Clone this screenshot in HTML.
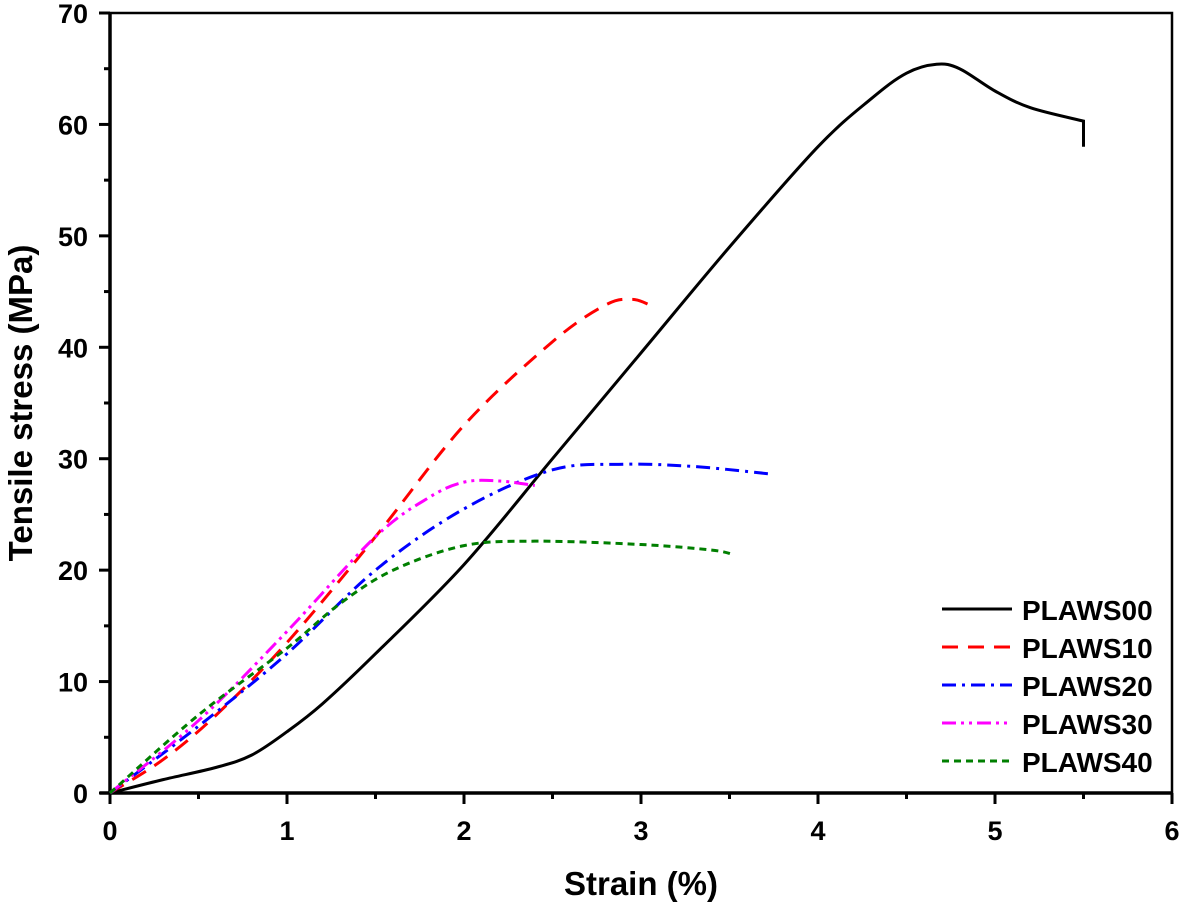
<!DOCTYPE html>
<html><head><meta charset="utf-8"><style>
html,body{margin:0;padding:0;background:#fff;}
svg{display:block;font-family:"Liberation Sans",Arial,sans-serif;font-weight:bold;}
</style></head><body>
<svg id="chart" width="1179" height="902" viewBox="0 0 1179 902">
<g id="axes"></g><g id="series"></g><g id="legend"></g>
</svg>
<script>
const xTicks=[0,1,2,3,4,5,6];
const yTicks=[0,10,20,30,40,50,60,70];
const seriesNames=["PLAWS00","PLAWS10","PLAWS20","PLAWS30","PLAWS40"];
const s00x=[0,0.3,0.6,0.8,1.0,1.2,1.5,2.0,2.5,3.0,3.5,4.0,4.3,4.5,4.67,4.8,5.0,5.2,5.5];
const s00y=[0,1.2,2.3,3.4,5.5,8,12.5,20.5,30,39.5,49,58,62.3,64.6,65.4,65,63,61.5,60.3];
const s10x=[0,0.3,0.6,1,1.5,2,2.5,2.8,2.95,3.05];
const s10y=[0,3,7,13.5,23,33,40.5,43.8,44.3,43.8];
const s20x=[0,0.5,1,1.5,2,2.5,2.9,3.3,3.75];
const s20y=[0,6,12.5,20,25.5,29,29.5,29.3,28.6];
const s30x=[0,0.5,1,1.5,1.8,2.0,2.2,2.4];
const s30y=[0,6.5,14.5,23,26.5,27.9,28,27.6];
const s40x=[0,0.5,1,1.3,1.6,2,2.4,3,3.4,3.52];
const s40y=[0,7,13,17,20,22.2,22.6,22.3,21.8,21.4];
const X0=110,X1=1172,Y0=793,Y1=13;
const sx=v=>X0+(X1-X0)*v/6, sy=v=>Y0-(Y0-Y1)*v/70;
const NS="http://www.w3.org/2000/svg";
function mk(t,a,p){const e=document.createElementNS(NS,t);for(const k in a)e.setAttribute(k,a[k]);p.appendChild(e);return e;}
const ax=document.getElementById('axes');
let fr=mk('rect',{x:X0,y:Y1,width:X1-X0,height:Y0-Y1,fill:'none',stroke:'#000','stroke-width':2.5},ax);

mk('line',{x1:X0,y1:Y1,x2:X0,y2:Y0,stroke:'#000','stroke-width':3.5},ax);
mk('line',{x1:X0-10,y1:Y0,x2:X1,y2:Y0,stroke:'#000','stroke-width':3.5},ax);
xTicks.forEach((t,i)=>{const x=sx(t);
 mk('line',{x1:x,y1:Y0,x2:x,y2:Y0+11,stroke:'#000','stroke-width':3},ax);
 if(i<xTicks.length-1)mk('line',{x1:sx(t+0.5),y1:Y0,x2:sx(t+0.5),y2:Y0+6,stroke:'#000','stroke-width':3},ax);
 const tx=mk('text',{x:x,y:Y0+47,'text-anchor':'middle','font-size':27},ax);tx.textContent=t;
 });
yTicks.forEach((t,i)=>{const y=sy(t);
 mk('line',{x1:X0-11,y1:y,x2:X0,y2:y,stroke:'#000','stroke-width':3},ax);
 if(i<yTicks.length-1)mk('line',{x1:X0-6,y1:sy(t+5),x2:X0,y2:sy(t+5),stroke:'#000','stroke-width':3},ax);
 const tx=mk('text',{x:X0-22,y:y+10,'text-anchor':'end','font-size':27},ax);tx.textContent=t;
 });
let xt=mk('text',{x:641,y:895,'text-anchor':'middle','font-size':33},ax);xt.textContent='Strain (%)';

let yt=mk('text',{x:32,y:403,'text-anchor':'middle','font-size':33,transform:'rotate(-90 32 403)'},ax);yt.textContent='Tensile stress (MPa)';

const styles=[
 {c:'#000',d:''},{c:'#ff0000',d:'16 10'},{c:'#0000ff',d:'14 6 3 6'},{c:'#ff00ff',d:'14 5 3 5 3 5'},{c:'#007f00',d:'7 5'}];
const data=[[s00x,s00y],[s10x,s10y],[s20x,s20y],[s30x,s30y],[s40x,s40y]];
function path(xs,ys){const p=xs.map((v,i)=>[sx(v),sy(ys[i])]);let d='M'+p[0][0]+','+p[0][1];
 for(let i=0;i<p.length-1;i++){const a=p[i-1]||p[i],b=p[i],c=p[i+1],e=p[i+2]||c;
 d+=' C'+(b[0]+(c[0]-a[0])/6)+','+(b[1]+(c[1]-a[1])/6)+' '+(c[0]-(e[0]-b[0])/6)+','+(c[1]-(e[1]-b[1])/6)+' '+c[0]+','+c[1];}
 return d;}
const sg=document.getElementById('series');
data.forEach((s,i)=>{let d=path(s[0],s[1]);
 if(i===0)d+=' L'+sx(5.5)+','+sy(58);
 const e=mk('path',{d:d,fill:'none',stroke:styles[i].c,'stroke-width':3,'stroke-dasharray':styles[i].d},sg);
 
 });
const lg=document.getElementById('legend');
seriesNames.forEach((n,i)=>{const y=609+i*38;
 const g=mk('g',{},lg);
 
 
 mk('line',{x1:942,y1:y,x2:1012,y2:y,stroke:styles[i].c,'stroke-width':3,'stroke-dasharray':styles[i].d},g);
 const t=mk('text',{x:1022,y:y+11,'font-size':28},g);t.textContent=n;});
</script>
</body></html>
